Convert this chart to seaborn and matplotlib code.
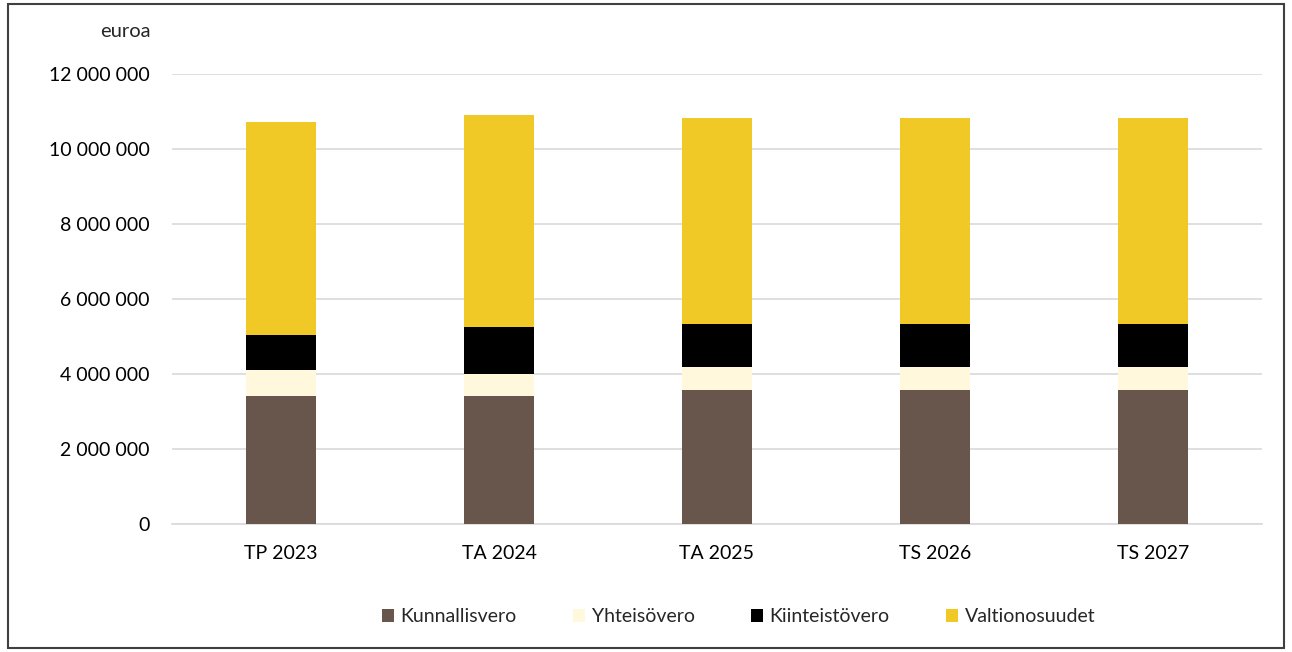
import pandas as pd
import seaborn as sns
import matplotlib.pyplot as plt
from matplotlib.patches import Rectangle
from matplotlib.ticker import FuncFormatter

years = ['TP 2023', 'TA 2024', 'TA 2025', 'TS 2026', 'TS 2027']
kunnallisvero = [3430000, 3430000, 3590000, 3590000, 3590000]
yhteisovero = [680000, 590000, 610000, 610000, 610000]
kiinteistovero = [930000, 1230000, 1130000, 1130000, 1130000]
valtionosuudet = [5670000, 5670000, 5500000, 5500000, 5500000]

names = ['Kunnallisvero', 'Yhteisövero', 'Kiinteistövero', 'Valtionosuudet']
colors = ['#68554B', '#FFF8DC', '#000000', '#F0C926']

df = pd.DataFrame({'year': years, names[0]: kunnallisvero, names[1]: yhteisovero,
                   names[2]: kiinteistovero, names[3]: valtionosuudet})
cum = df[names].cumsum(axis=1)
cum['year'] = df['year']

sns.set_style('white')
plt.rcParams['font.family'] = ['Lato', 'DejaVu Sans']

fig = plt.figure(figsize=(12.92, 6.52), dpi=100)
ax = fig.add_axes([0.1331, 0.1957, 0.8437, 0.6908])

# draw from top layer down so each stack covers the one below
for name, col in reversed(list(zip(names, colors))):
    sns.barplot(data=cum, x='year', y=name, color=col, width=0.32,
                saturation=1, ax=ax, label=name, zorder=3,
                edgecolor='none', linewidth=0)

ax.set_ylim(0, 12000000)
ax.set_yticks(range(0, 12000001, 2000000))
ax.yaxis.set_major_formatter(FuncFormatter(lambda v, p: f'{int(v):,}'.replace(',', ' ')))
ax.grid(axis='y', color='#D9D9D9', linewidth=1.2, zorder=0)
ax.set_axisbelow(True)
for s in ['top', 'right', 'left']:
    ax.spines[s].set_visible(False)
ax.spines['bottom'].set_color('#D9D9D9')
ax.spines['bottom'].set_linewidth(1.2)
ax.tick_params(axis='both', length=0, labelsize=14, colors='black')
ax.tick_params(axis='y', pad=16)
ax.tick_params(axis='x', pad=15)
ax.set_xlabel('')
ax.set_ylabel('')

fig.text(0.1165, 0.951, 'euroa', ha='right', va='center', fontsize=14.5)

handles, labels = ax.get_legend_handles_labels()
order = [labels.index(n) for n in names]
ax.legend([handles[i] for i in order], names, loc='center', bbox_to_anchor=(0.52, -0.205),
          ncol=4, frameon=False, fontsize=14, handlelength=0.6, handleheight=0.6,
          columnspacing=2.9, handletextpad=0.35)

fig.add_artist(Rectangle((0.006, 0.006), 0.988, 0.988, transform=fig.transFigure,
                         fill=False, edgecolor='#404040', linewidth=1.5))

fig.savefig('out.png', dpi=100)
